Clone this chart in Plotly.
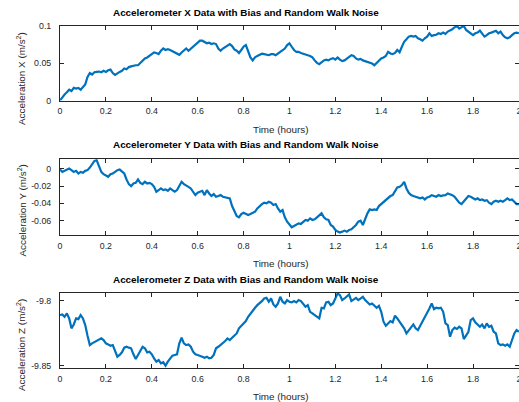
import numpy as np
import plotly.graph_objects as go

# ---------------- data ----------------
accel_x = [
    0.0, 0.0045, 0.008, 0.011, 0.0145, 0.0127, 0.017, 0.016, 0.017, 0.0145,
    0.018, 0.0217, 0.0317, 0.037, 0.035, 0.038, 0.0385, 0.039, 0.038, 0.040,
    0.0385, 0.0407, 0.0416, 0.037, 0.0344, 0.037, 0.0385, 0.040, 0.043, 0.042,
    0.045, 0.046, 0.047, 0.0475, 0.0475, 0.0507, 0.054, 0.0566, 0.058, 0.060,
    0.063, 0.0647, 0.064, 0.0624, 0.067, 0.070, 0.068, 0.069, 0.068, 0.0665,
    0.0656, 0.064, 0.0615, 0.0647, 0.068, 0.070, 0.067, 0.0697, 0.0724, 0.0738,
    0.077, 0.0805, 0.0805, 0.0787, 0.077, 0.0778, 0.076, 0.077, 0.076, 0.070,
    0.067, 0.070, 0.0724, 0.0747, 0.076, 0.0733, 0.0688, 0.067, 0.064, 0.068,
    0.0724, 0.0747, 0.067, 0.058, 0.054, 0.058, 0.060, 0.061, 0.063, 0.0624,
    0.062, 0.061, 0.0624, 0.0624, 0.061, 0.0633, 0.0656, 0.068, 0.070, 0.0747,
    0.077, 0.0724, 0.068, 0.0656, 0.0656, 0.064, 0.0633, 0.062, 0.061, 0.060,
    0.058, 0.054, 0.0507, 0.0489, 0.052, 0.054, 0.055, 0.054, 0.056, 0.057,
    0.055, 0.058, 0.055, 0.053, 0.054, 0.0566, 0.0588, 0.061, 0.060, 0.0566,
    0.055, 0.056, 0.054, 0.053, 0.0516, 0.0516, 0.0498, 0.0475, 0.0507, 0.053,
    0.0566, 0.058, 0.060, 0.0656, 0.0633, 0.0624, 0.064, 0.068, 0.065, 0.0724,
    0.079, 0.0824, 0.086, 0.0869, 0.086, 0.0869, 0.0837, 0.0824, 0.0805, 0.0837,
    0.086, 0.0905, 0.0869, 0.088, 0.0885, 0.0905, 0.0896, 0.0914, 0.0896, 0.0928,
    0.094, 0.096, 0.0986, 0.1005, 0.0968, 0.0986, 0.1005, 0.095, 0.0928, 0.0905,
    0.088, 0.0905, 0.0914, 0.094, 0.0905, 0.086, 0.088, 0.0905, 0.0914, 0.0932,
    0.094, 0.0905, 0.0928, 0.088, 0.085, 0.0837, 0.085, 0.088, 0.0905, 0.0914,
    0.0905,
]

accel_y = [
    -0.0008, -0.0035, -0.0023, -0.0008, 0.0004, -0.0015, -0.0035, -0.0023, -0.0054, -0.0035,
    -0.0046, -0.0023, -0.0015, 0.0015, 0.0054, 0.0092, 0.0100, 0.0031, -0.0035, -0.0062,
    -0.0073, -0.0092, -0.0062, -0.0054, -0.0035, -0.0015, -0.0008, -0.0035, -0.0054, -0.0123,
    -0.0177, -0.0200, -0.0169, -0.0162, -0.0123, -0.0162, -0.0177, -0.0150, -0.0169, -0.0162,
    -0.0177, -0.0208, -0.0265, -0.0246, -0.0227, -0.0246, -0.0238, -0.0254, -0.0227, -0.0246,
    -0.0265, -0.0246, -0.0200, -0.0150, -0.0177, -0.0188, -0.0208, -0.0227, -0.0265, -0.0304,
    -0.0277, -0.0265, -0.0254, -0.0304, -0.0246, -0.0285, -0.0315, -0.0292, -0.0323, -0.0315,
    -0.0304, -0.0323, -0.0331, -0.0342, -0.0342, -0.0431, -0.0496, -0.0546, -0.0562, -0.0523,
    -0.0508, -0.0523, -0.0535, -0.0523, -0.0508, -0.0496, -0.0458, -0.0431, -0.0408, -0.0392,
    -0.0400, -0.0381, -0.0392, -0.0419, -0.0408, -0.0458, -0.0496, -0.0477, -0.0562, -0.0612,
    -0.0650, -0.0677, -0.0662, -0.0650, -0.0631, -0.0638, -0.0612, -0.0592, -0.0600, -0.0573,
    -0.0592, -0.0585, -0.0562, -0.0535, -0.0515, -0.0562, -0.0585, -0.0592, -0.0650, -0.0669,
    -0.0708, -0.0727, -0.0738, -0.0727, -0.0715, -0.0727, -0.0708, -0.0700, -0.0677, -0.0650,
    -0.0612, -0.0600, -0.0650, -0.0573, -0.0515, -0.0469, -0.0477, -0.0469, -0.0477, -0.0431,
    -0.0408, -0.0381, -0.0362, -0.0342, -0.0315, -0.0304, -0.0254, -0.0215, -0.0208, -0.0188,
    -0.0150, -0.0227, -0.0277, -0.0304, -0.0315, -0.0323, -0.0331, -0.0342, -0.0331, -0.0354,
    -0.0331, -0.0323, -0.0304, -0.0315, -0.0323, -0.0304, -0.0315, -0.0308, -0.0304, -0.0285,
    -0.0292, -0.0304, -0.0323, -0.0362, -0.0392, -0.0408, -0.0381, -0.0342, -0.0315, -0.0323,
    -0.0342, -0.0354, -0.0342, -0.0362, -0.0354, -0.0369, -0.0362, -0.0392, -0.0408, -0.0381,
    -0.0369, -0.0381, -0.0369, -0.0381, -0.0362, -0.0342, -0.0362, -0.0354, -0.0381, -0.0408,
    -0.0408,
]

accel_z = [
    -9.8112, -9.8107, -9.8125, -9.8099, -9.8138, -9.8214, -9.8184, -9.8138, -9.8143, -9.8112,
    -9.8138, -9.8189, -9.8270, -9.8342, -9.8329, -9.8321, -9.8311, -9.8304, -9.8291, -9.8304,
    -9.8329, -9.8337, -9.8347, -9.8342, -9.8380, -9.8431, -9.8418, -9.8398, -9.8362, -9.8355,
    -9.8362, -9.8367, -9.8413, -9.8449, -9.8418, -9.8388, -9.8355, -9.8367, -9.8398, -9.8393,
    -9.8413, -9.8444, -9.8469, -9.8457, -9.8482, -9.8474, -9.8500, -9.8469, -9.8444, -9.8423,
    -9.8418, -9.8413, -9.8329, -9.8286, -9.8329, -9.8342, -9.8337, -9.8355, -9.8393, -9.8413,
    -9.8418, -9.8423, -9.8431, -9.8439, -9.8431, -9.8444, -9.8439, -9.8418, -9.8367, -9.8355,
    -9.8342, -9.8329, -9.8311, -9.8291, -9.8304, -9.8286, -9.8265, -9.8253, -9.8214, -9.8194,
    -9.8176, -9.8158, -9.8125, -9.8099, -9.8074, -9.8056, -9.8036, -9.8023, -9.8005, -9.7985,
    -9.7980, -9.8010, -9.7985, -9.8031, -9.8048, -9.8023, -9.7972, -9.8010, -9.8023, -9.7997,
    -9.8010, -9.8015, -9.8005, -9.8015, -9.7997, -9.8005, -9.8023, -9.8048, -9.8036, -9.8087,
    -9.8099, -9.8112, -9.8125, -9.8138, -9.8056, -9.8061, -9.8015, -9.8010, -9.8036, -9.8023,
    -9.7985, -9.7946, -9.7959, -9.7997, -9.7985, -9.7972, -9.7954, -9.8005, -9.7990, -9.7980,
    -9.7997, -9.7985, -9.7972, -9.7997, -9.8015, -9.8031, -9.8023, -9.8036, -9.8056, -9.8041,
    -9.8087, -9.8163, -9.8194, -9.8176, -9.8158, -9.8168, -9.8117, -9.8138, -9.8163, -9.8189,
    -9.8214, -9.8253, -9.8227, -9.8202, -9.8184, -9.8214, -9.8227, -9.8194, -9.8163, -9.8125,
    -9.8099, -9.8061, -9.8023, -9.8066, -9.8056, -9.8061, -9.8056, -9.8087, -9.8176, -9.8189,
    -9.8278, -9.8227, -9.8209, -9.8219, -9.8202, -9.8214, -9.8296, -9.8265, -9.8240, -9.8151,
    -9.8138, -9.8168, -9.8189, -9.8202, -9.8184, -9.8214, -9.8176, -9.8202, -9.8194, -9.8240,
    -9.8253, -9.8329, -9.8342, -9.8337, -9.8347, -9.8337, -9.8355, -9.8296, -9.8253, -9.8227,
    -9.8240,
]

x_tick_vals = [0, 0.2, 0.4, 0.6, 0.8, 1, 1.2, 1.4, 1.6, 1.8, 2]
x_tick_text = ["0", "0.2", "0.4", "0.6", "0.8", "1", "1.2", "1.4", "1.6", "1.8", "2"]
yx_tick_vals = [0, 0.05, 0.1]
yx_tick_text = ["0", "0.05", "0.1"]
yy_tick_vals = [0, -0.02, -0.04, -0.06]
yy_tick_text = ["0", "-0.02", "-0.04", "-0.06"]
yz_tick_vals = [-9.8, -9.85]
yz_tick_text = ["-9.8", "-9.85"]

titles = [
    "Accelerometer X Data with Bias and Random Walk Noise",
    "Accelerometer Y Data with Bias and Random Walk Noise",
    "Accelerometer Z Data with Bias and Random Walk Noise",
]
y_labels = [
    "Acceleration X (m/s<sup>2</sup>)",
    "Acceleration Y (m/s<sup>2</sup>)",
    "Acceleration Z (m/s<sup>2</sup>)",
]
x_label = "Time (hours)"

# ---------------- layout geometry ----------------
W, H = 519, 402
ML, MR = 60, 0
PW = W - ML - MR
FONT = "Liberation Sans, Arial, Helvetica, sans-serif"
AX = "#262626"
LINE = "#0072BD"

panels = [
    dict(vals=accel_x, top=25.5, bot=100.5, rng=[0, 0.101],
         tv=yx_tick_vals, tt=yx_tick_text, title_y=12.7, xl_y=129.3, yl_y=79),
    dict(vals=accel_y, top=158.5, bot=235, rng=[-0.0766, 0.012],
         tv=yy_tick_vals, tt=yy_tick_text, title_y=144.7, xl_y=263.5, yl_y=210.5),
    dict(vals=accel_z, top=292.5, bot=368, rng=[-9.8518, -9.7939],
         tv=yz_tick_vals, tt=yz_tick_text, title_y=279, xl_y=396.7, yl_y=345),
]

def py(p):
    return 1 - p / H

def px(p):
    return (p - ML) / PW

fig = go.Figure()
annotations = []
for i, p in enumerate(panels):
    n = i + 1
    sfx = "" if n == 1 else str(n)
    hours = np.linspace(0, 2, len(p["vals"]))
    fig.add_trace(go.Scatter(
        x=hours, y=p["vals"], mode="lines",
        line=dict(color=LINE, width=2.2),
        xaxis="x" + sfx, yaxis="y" + sfx, showlegend=False,
    ))
    common = dict(
        showline=True, linecolor=AX, linewidth=1, mirror="ticks",
        ticks="inside", ticklen=4, tickwidth=1, tickcolor=AX,
        showgrid=False, zeroline=False, automargin=False,
        ticklabeloverflow="allow",
        tickfont=dict(family=FONT, size=8.8, color=AX),
    )
    fig.layout["xaxis" + sfx] = dict(
        common, domain=[0, 1], range=[0, 2.0005], anchor="y" + sfx,
        tickvals=x_tick_vals, ticktext=x_tick_text, ticklabelstandoff=2,
    )
    fig.layout["yaxis" + sfx] = dict(
        common, domain=[py(p["bot"]), py(p["top"])], range=p["rng"],
        anchor="x" + sfx, tickvals=p["tv"], ticktext=p["tt"],
        ticklabelstandoff=6,
    )
    annotations.append(dict(
        text="<b>%s</b>" % titles[i], x=px(245.5), y=py(p["title_y"]),
        xref="paper", yref="paper", xanchor="center", yanchor="middle",
        showarrow=False, font=dict(family=FONT, size=9.9, color="black"),
    ))
    annotations.append(dict(
        text=x_label, x=px(281.3), y=py(p["xl_y"]),
        xref="paper", yref="paper", xanchor="center", yanchor="middle",
        showarrow=False, font=dict(family=FONT, size=9.9, color=AX),
    ))
    annotations.append(dict(
        text=y_labels[i], x=px(21), y=py(p["yl_y"]), textangle=-90,
        xref="paper", yref="paper", xanchor="center", yanchor="middle",
        showarrow=False, font=dict(family=FONT, size=9.9, color=AX),
    ))

fig.update_layout(
    width=W, height=H,
    margin=dict(l=ML, r=MR, t=0, b=0, pad=0, autoexpand=False),
    paper_bgcolor="white", plot_bgcolor="white",
    annotations=annotations,
)

fig.write_html(
    "out.html",
    config={"displayModeBar": False},
    post_script="document.body.style.margin='0';document.body.style.overflow='hidden';",
)
